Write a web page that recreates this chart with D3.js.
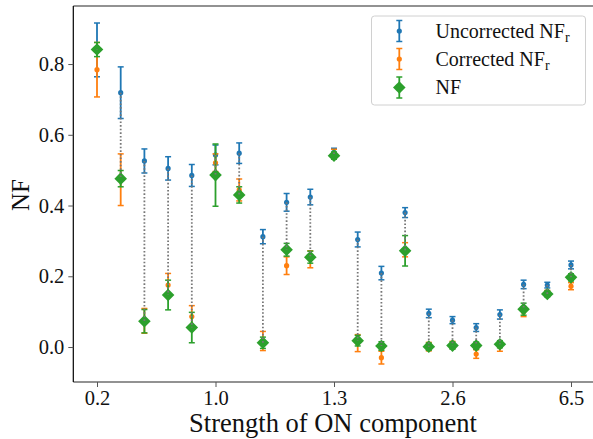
<!DOCTYPE html>
<html><head><meta charset="utf-8">
<script src="https://cdn.jsdelivr.net/npm/d3@7"></script>
<style>body{margin:0;background:#fff}svg{display:block}text{font-family:"Liberation Serif","DejaVu Serif",serif;fill:#111}</style>
</head><body><svg id="c" width="593" height="439"></svg>
<script>
const tickIdx = [0, 5, 10, 15, 20];
const tickLabels = ["0.2", "1.0", "1.3", "2.6", "6.5"];
const yTicks = [0.0, 0.2, 0.4, 0.6, 0.8];
const unc    = [0.840,0.719,0.526,0.505,0.485,0.543,0.548,0.312,0.409,0.424,0.550,0.304,0.209,0.380,0.095,0.076,0.055,0.092,0.177,0.175,0.232];
const uncErr = [0.076,0.073,0.034,0.033,0.031,0.028,0.029,0.020,0.025,0.022,0.012,0.021,0.019,0.014,0.012,0.010,0.011,0.013,0.012,0.008,0.011];
const cor    = [0.784,0.473,0.074,0.175,0.086,0.521,0.444,0.017,0.230,0.248,0.547,0.011,-0.030,0.275,0.001,0.006,-0.020,0.001,0.100,0.152,0.172];
const corErr = [0.077,0.073,0.035,0.033,0.031,0.025,0.031,0.027,0.025,0.024,0.012,0.024,0.018,0.020,0.012,0.010,0.012,0.013,0.014,0.008,0.010];
const nf     = [0.841,0.476,0.073,0.147,0.055,0.486,0.430,0.012,0.275,0.254,0.541,0.018,0.003,0.272,0.001,0.004,0.004,0.008,0.107,0.150,0.197];
const nfErr  = [0.020,0.023,0.033,0.042,0.043,0.088,0.023,0.016,0.018,0.017,0.010,0.015,0.012,0.043,0.010,0.010,0.010,0.010,0.017,0.008,0.010];

const C = {blue:"#1f77b4", orange:"#ff7f0e", green:"#2ca02c"};
const svg = d3.select("#c");
const L = 73.3, T = 6, B = 382, R = 594.7;
const x = d3.scaleLinear().domain([-1, 21]).range([L, R]);
const y = d3.scaleLinear().domain([-0.0989, 0.9641]).range([B, T]);

// spines
svg.append("line").attr("x1", L).attr("x2", 593).attr("y1", T).attr("y2", T).attr("stroke", "#6e6e6e").attr("stroke-width", 1.6);
svg.append("line").attr("x1", L).attr("x2", 593).attr("y1", B).attr("y2", B).attr("stroke", "#6e6e6e").attr("stroke-width", 1.6);
svg.append("line").attr("x1", L).attr("x2", L).attr("y1", T).attr("y2", B).attr("stroke", "#000").attr("stroke-width", 1.2);

// axes
const xAxis = d3.axisBottom(x).tickValues(tickIdx).tickFormat((d, i) => tickLabels[i]).tickSize(5).tickPadding(3.5);
const gx = svg.append("g").attr("transform", `translate(0,${B})`).call(xAxis);
gx.select(".domain").remove();
gx.selectAll("line").attr("stroke", "#555").attr("stroke-width", 1);
gx.selectAll("text").attr("font-size", 20.5).attr("font-family", "Liberation Serif").attr("fill", "#111");
const yAxis = d3.axisLeft(y).tickValues(yTicks).tickFormat(d3.format(".1f")).tickSize(5).tickPadding(4);
const gy = svg.append("g").attr("transform", `translate(${L},0)`).call(yAxis);
gy.select(".domain").remove();
gy.selectAll("line").attr("stroke", "#555").attr("stroke-width", 1);
gy.selectAll("text").attr("font-size", 20.5).attr("font-family", "Liberation Serif").attr("fill", "#111");

svg.append("text").attr("x", 333).attr("y", 431.5).attr("text-anchor", "middle").attr("font-size", 26.5).text("Strength of ON component");
svg.append("text").attr("transform", "translate(29,195) rotate(-90)").attr("text-anchor", "middle").attr("font-size", 25).text("NF");

const idx = d3.range(unc.length);
function errbars(vals, errs, color, cls) {
  const g = svg.append("g").attr("class", cls);
  g.selectAll("line.v").data(idx).join("line").attr("class", "v")
    .attr("x1", i => x(i)).attr("x2", i => x(i))
    .attr("y1", i => y(vals[i] - errs[i])).attr("y2", i => y(vals[i] + errs[i]))
    .attr("stroke", color).attr("stroke-width", 1.8);
  ["lo", "hi"].forEach(k => {
    g.selectAll("line." + k).data(idx).join("line").attr("class", k)
      .attr("x1", i => x(i) - 3).attr("x2", i => x(i) + 3)
      .attr("y1", i => y(vals[i] + (k === "hi" ? errs[i] : -errs[i])))
      .attr("y2", i => y(vals[i] + (k === "hi" ? errs[i] : -errs[i])))
      .attr("stroke", color).attr("stroke-width", 1.5);
  });
  return g;
}
const gb = errbars(unc, uncErr, C.blue, "unc");
gb.selectAll("circle").data(idx).join("circle").attr("cx", i => x(i)).attr("cy", i => y(unc[i])).attr("r", 2.6).attr("fill", C.blue);
const go = errbars(cor, corErr, C.orange, "cor");
go.selectAll("circle").data(idx).join("circle").attr("cx", i => x(i)).attr("cy", i => y(cor[i])).attr("r", 2.6).attr("fill", C.orange);
const gg = errbars(nf, nfErr, C.green, "nf");
const dia = (cx, cy, h) => `M${cx},${cy - h}L${cx + h},${cy}L${cx},${cy + h}L${cx - h},${cy}Z`;
gg.selectAll("path").data(idx).join("path").attr("d", i => dia(x(i), y(nf[i]), 6.3)).attr("fill", C.green);

// dotted connectors
svg.append("g").selectAll("line").data(idx).join("line")
  .attr("x1", i => x(i)).attr("x2", i => x(i))
  .attr("y1", i => y(unc[i])).attr("y2", i => y(nf[i]))
  .attr("stroke", "#777").attr("stroke-width", 1.8).attr("stroke-dasharray", "1.6,2");

// legend
const lg = svg.append("g");
lg.append("rect").attr("x", 371.5).attr("y", 16).attr("width", 214).attr("height", 89).attr("rx", 3)
  .attr("fill", "#fff").attr("fill-opacity", 0.8).attr("stroke", "#d0d0d0").attr("stroke-width", 1);
const items = [
  {label: "Uncorrected NF", sub: "r", color: C.blue, type: "dot", cy: 31},
  {label: "Corrected NF", sub: "r", color: C.orange, type: "dot", cy: 59},
  {label: "NF", sub: "", color: C.green, type: "dia", cy: 87.5}
];
items.forEach(it => {
  const hx = 399.3, h = 10.5;
  lg.append("line").attr("x1", hx).attr("x2", hx).attr("y1", it.cy - h).attr("y2", it.cy + h).attr("stroke", it.color).attr("stroke-width", 1.8);
  [-h, h].forEach(d => lg.append("line").attr("x1", hx - 3).attr("x2", hx + 3).attr("y1", it.cy + d).attr("y2", it.cy + d).attr("stroke", it.color).attr("stroke-width", 1.5));
  if (it.type === "dot") lg.append("circle").attr("cx", hx).attr("cy", it.cy).attr("r", 2.6).attr("fill", it.color);
  else lg.append("path").attr("d", dia(hx, it.cy, 6.3)).attr("fill", it.color);
  const t = lg.append("text").attr("x", 435.5).attr("y", it.cy + 6.5).attr("font-size", 20).text(it.label);
  if (it.sub) t.append("tspan").attr("dy", 4).attr("font-size", 14).text(it.sub);
});
</script></body></html>
